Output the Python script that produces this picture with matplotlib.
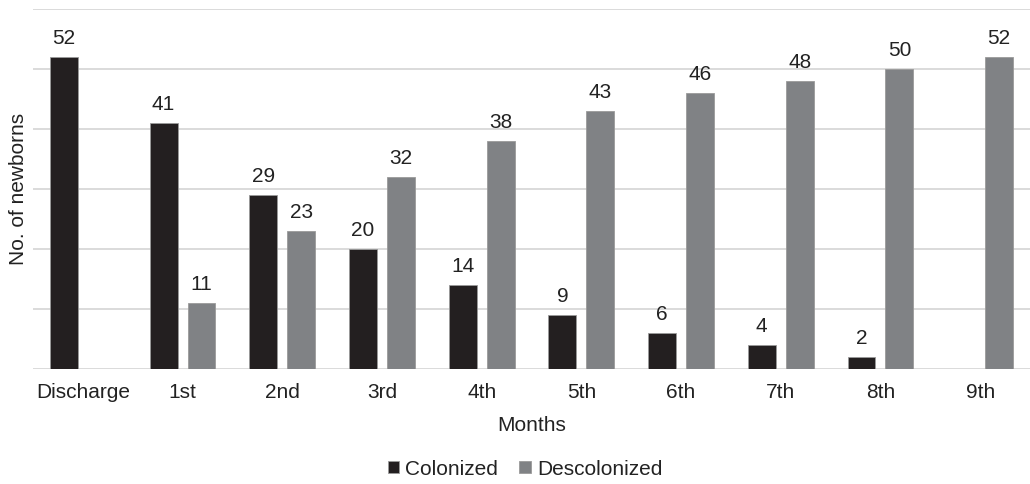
import numpy as np
import matplotlib.pyplot as plt

plt.rcParams['font.family'] = ['Liberation Sans', 'DejaVu Sans']

months = ['Discharge', '1st', '2nd', '3rd', '4th', '5th', '6th', '7th', '8th', '9th']
colonized = [52, 41, 29, 20, 14, 9, 6, 4, 2, None]
descolonized = [None, 11, 23, 32, 38, 43, 46, 48, 50, 52]

fig = plt.figure(figsize=(10.30, 4.84), dpi=100)
ax = fig.add_axes([33/1030, 115/484, 997/1030, 360/484])

x = np.arange(len(months))
w = 0.28
off = 0.19
fs = 15
tc = '#222222'

for vals, dx, col, lab in [(colonized, -off, '#231f20', 'Colonized'),
                           (descolonized, off, '#808285', 'Descolonized')]:
    xs = [x[i] + dx for i, v in enumerate(vals) if v is not None]
    ys = [v for v in vals if v is not None]
    bars = ax.bar(xs, ys, width=w, color=col, edgecolor='#9a9a9a', linewidth=0.6, label=lab, zorder=3)
    for b, v in zip(bars, ys):
        ax.text(b.get_x() + b.get_width()/2, v + 1.5, str(v), ha='center', va='bottom',
                fontsize=fs, color=tc)

ax.set_xlim(-0.5, len(months) - 0.5)
ax.set_ylim(0, 60)
ax.set_yticks(np.arange(0, 61, 10))
ax.set_yticklabels([])
ax.tick_params(axis='y', length=0)
ax.tick_params(axis='x', length=0, labelsize=fs, pad=10, colors=tc)
ax.set_xticks(x)
ax.set_xticklabels(months)
ax.grid(axis='y', color='#d4d4d4', linewidth=1.2, zorder=0)
for s in ax.spines.values():
    s.set_visible(False)

ax.set_xlabel('Months', fontsize=fs, color=tc, labelpad=10)
ax.set_ylabel('No. of newborns', fontsize=fs, color=tc, labelpad=0)

ax.legend(loc='center', bbox_to_anchor=(492/997, -0.278), ncol=2, frameon=False,
          fontsize=fs, handlelength=0.55, handleheight=0.55, handletextpad=0.3,
          columnspacing=1.0, labelcolor=tc)

plt.savefig('out.png', dpi=100)
